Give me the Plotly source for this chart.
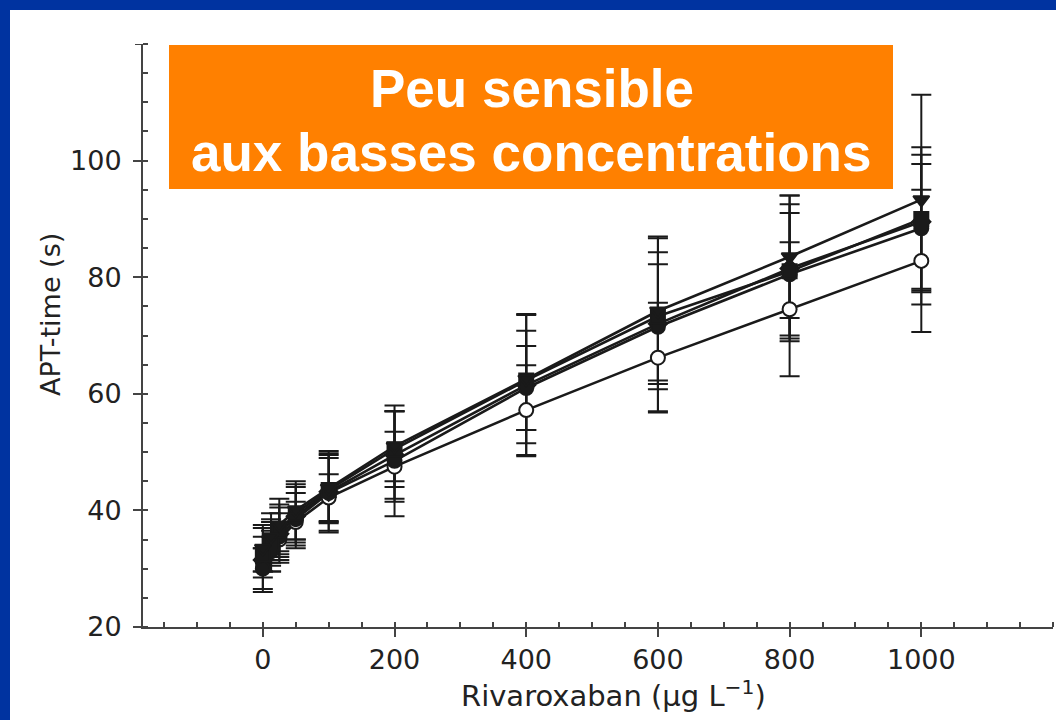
import plotly.graph_objects as go

# Rivaroxaban concentrations (µg/L)
conc = [0, 12.5, 25, 50, 100, 200, 400, 600, 800, 1000]

# APT-time means (s) for the five reagents/series
s_open_circle = [31.0, 33.0, 35.0, 38.0, 42.2, 47.5, 57.2, 66.2, 74.5, 82.8]
s_circle      = [30.0, 33.0, 35.5, 38.5, 43.0, 48.5, 61.0, 71.5, 80.5, 88.4]
s_square      = [32.5, 34.5, 36.5, 39.5, 43.5, 50.5, 62.3, 73.3, 81.0, 90.0]
s_tri_down    = [33.5, 35.5, 37.5, 40.0, 43.8, 51.0, 62.5, 74.2, 83.5, 93.3]
s_diamond     = [31.5, 34.0, 36.0, 39.0, 43.2, 49.5, 61.5, 72.0, 81.5, 89.5]

# Standard deviations (s)
e_open_circle = [2.5, 2.5, 3.0, 3.5, 4.0, 6.0, 7.7, 9.4, 11.5, 12.2]
e_circle      = [3.5, 3.5, 4.0, 4.5, 6.5, 9.5, 7.2, 10.7, 10.5, 11.0]
e_square      = [3.0, 3.5, 4.0, 4.5, 5.5, 6.5, 8.5, 11.0, 11.5, 12.3]
e_tri_down    = [4.0, 4.0, 4.5, 5.0, 6.0, 6.0, 11.0, 12.5, 10.5, 18.0]
e_diamond     = [5.5, 4.5, 5.0, 5.5, 7.0, 7.5, 12.2, 15.0, 12.5, 11.5]

x_ticks = [0, 200, 400, 600, 800, 1000]
x_ticktext = ["0", "200", "400", "600", "800", "1000"]
y_ticks = [20, 40, 60, 80, 100]
y_ticktext = ["20", "40", "60", "80", "100"]
y_top = 120

title_line1 = "Peu sensible"
title_line2 = "aux basses concentrations"
x_title = "Rivaroxaban (μg L<sup>−1</sup>)"
y_title = "APT-time (s)"

INK = "#1a1a1a"
AXC = "#444444"

# open circles first so the filled markers overlap them at low doses
series = [
    (s_open_circle, e_open_circle, "circle", "white"),
    (s_diamond, e_diamond, "diamond", INK),
    (s_circle, e_circle, "circle", INK),
    (s_square, e_square, "square", INK),
    (s_tri_down, e_tri_down, "triangle-down", INK),
]

fig = go.Figure()
# pass 1: connecting lines and error bars
for vals, errs, sym, fill in series:
    fig.add_trace(go.Scatter(
        x=conc, y=vals, mode="lines",
        line=dict(color=INK, width=2.6),
        error_y=dict(type="data", array=errs, visible=True,
                     color=INK, thickness=2, width=10),
        showlegend=False, hoverinfo="skip",
    ))
# pass 2: markers on top
for vals, errs, sym, fill in series:
    fig.add_trace(go.Scatter(
        x=conc, y=vals, mode="markers",
        marker=dict(symbol=sym, size=14, color=fill,
                    line=dict(color=INK, width=2)),
        showlegend=False,
    ))

# panel geometry: plot area x 143..1053, y 44..627 in a 1056x720 page
L, R, T, B = 143, 1053, 44, 627
W = R - L
H = B - T

def px(xp):
    return (xp - L) / W

def py(yp):
    return (B - yp) / H

shapes = [
    # white slide panel inside blue frame
    dict(type="rect", xref="paper", yref="paper",
         x0=px(10), x1=px(1070), y0=py(740), y1=py(10),
         fillcolor="white", line=dict(width=0), layer="below"),
    # orange call-out box
    dict(type="rect", xref="paper", yref="paper",
         x0=px(169), x1=px(893), y0=py(189), y1=py(45),
         fillcolor="#FF8000", line=dict(width=0), layer="above"),
    # major tick at the top of the y axis (unlabelled)
    dict(type="line", xref="paper", yref="y",
         x0=px(135), x1=px(143), y0=y_top, y1=y_top,
         line=dict(color=AXC, width=2)),
]

annotations = [
    dict(text=f"<b>{title_line1}</b>", xref="paper", yref="paper",
         x=px(532), y=py(88), xanchor="center", yanchor="middle",
         showarrow=False,
         font=dict(family="Liberation Sans, Arial", size=53, color="white")),
    dict(text=f"<b>{title_line2}</b>", xref="paper", yref="paper",
         x=px(531), y=py(152), xanchor="center", yanchor="middle",
         showarrow=False,
         font=dict(family="Liberation Sans, Arial", size=53, color="white")),
    dict(text=x_title, xref="paper", yref="paper",
         x=px(613), y=py(694), xanchor="center", yanchor="middle",
         showarrow=False,
         font=dict(family="DejaVu Sans", size=29, color="#222222")),
    dict(text=y_title, xref="paper", yref="paper",
         x=px(50), y=py(315), xanchor="center", yanchor="middle",
         textangle=-90, showarrow=False,
         font=dict(family="DejaVu Sans", size=27, color="#222222")),
]

fig.update_layout(
    width=1056, height=720,
    margin=dict(l=L, r=1056 - R, t=T, b=720 - B),
    paper_bgcolor="#0033A0",
    plot_bgcolor="white",
    shapes=shapes,
    annotations=annotations,
    xaxis=dict(
        range=[-182, 1200], showgrid=False, zeroline=False,
        showline=True, linecolor=AXC, linewidth=2,
        tickmode="array", tickvals=x_ticks, ticktext=x_ticktext,
        ticks="outside", ticklen=8, tickwidth=2, tickcolor=AXC,
        tickfont=dict(family="DejaVu Sans", size=27, color="#222222"),
        minor=dict(ticks="inside", ticklen=5, tickwidth=1.5,
                   tickcolor=AXC, tick0=0, dtick=50, showgrid=False),
    ),
    yaxis=dict(
        range=[20, y_top], showgrid=False, zeroline=False,
        showline=True, linecolor=AXC, linewidth=2,
        tickmode="array", tickvals=y_ticks, ticktext=y_ticktext,
        ticks="outside", ticklen=8, tickwidth=2, tickcolor=AXC,
        ticklabelstandoff=6,
        tickfont=dict(family="DejaVu Sans", size=27, color="#222222"),
        minor=dict(ticks="inside", ticklen=5, tickwidth=1.5,
                   tickcolor=AXC, tick0=0, dtick=5, showgrid=False),
    ),
)

fig.write_html("out.html",
               config={"displayModeBar": False},
               post_script="document.body.style.margin='0';"
                           "document.body.style.overflow='hidden';")
